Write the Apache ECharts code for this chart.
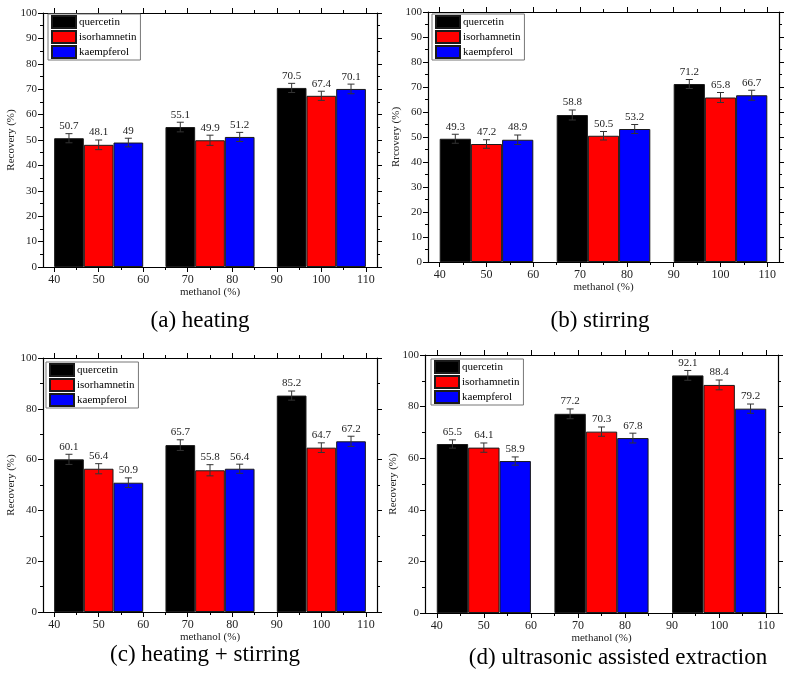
<!DOCTYPE html>
<html><head><meta charset="utf-8">
<script src="https://cdn.jsdelivr.net/npm/echarts@6/dist/echarts.min.js"></script>
<style>html,body{margin:0;padding:0;background:#fff}#c{width:793px;height:679px}</style>
</head><body><div id="c"></div>
<script>
// ---------- data ----------
const seriesNames = ['quercetin', 'isorhamnetin', 'kaempferol'];
const methanolGroups = [50, 75, 100];
const xTickValues = [40, 50, 60, 70, 80, 90, 100, 110];
const xMinorTicks = [45, 55, 65, 75, 85, 95, 105];
const panelTitles = ['(a) heating', '(b) stirring', '(c) heating + stirring', '(d) ultrasonic assisted extraction'];
const yAxisNames = ['Recovery (%)', 'Rrcovery (%)', 'Recovery (%)', 'Recovery (%)'];
const xAxisName = 'methanol (%)';

const heatingQuercetin = [50.7, 55.1, 70.5];
const heatingIsorhamnetin = [48.1, 49.9, 67.4];
const heatingKaempferol = [49, 51.2, 70.1];
const stirringQuercetin = [49.3, 58.8, 71.2];
const stirringIsorhamnetin = [47.2, 50.5, 65.8];
const stirringKaempferol = [48.9, 53.2, 66.7];
const heatStirQuercetin = [60.1, 65.7, 85.2];
const heatStirIsorhamnetin = [56.4, 55.8, 64.7];
const heatStirKaempferol = [50.9, 56.4, 67.2];
const ultrasonicQuercetin = [65.5, 77.2, 92.1];
const ultrasonicIsorhamnetin = [64.1, 70.3, 88.4];
const ultrasonicKaempferol = [58.9, 67.8, 79.2];

const heatingErr = [[1.8, 1.9, 1.8], [1.9, 2.0, 1.8], [1.7, 1.8, 1.9]];
const stirringErr = [[1.8, 2.0, 1.8], [1.7, 1.7, 2.0], [1.9, 1.8, 2.0]];
const heatStirErr = [[2.0, 2.1, 1.8], [2.0, 2.2, 1.9], [1.9, 1.8, 2.0]];
const ultrasonicErr = [[1.6, 1.9, 1.9], [1.8, 1.8, 1.9], [1.6, 1.9, 1.8]];

const panelValues = [
  [heatingQuercetin, heatingIsorhamnetin, heatingKaempferol],
  [stirringQuercetin, stirringIsorhamnetin, stirringKaempferol],
  [heatStirQuercetin, heatStirIsorhamnetin, heatStirKaempferol],
  [ultrasonicQuercetin, ultrasonicIsorhamnetin, ultrasonicKaempferol]
];
const panelErrors = [heatingErr, stirringErr, heatStirErr, ultrasonicErr];

// ---------- layout / style ----------
const colors = ['#000000', '#ff0000', '#0000ff'];
const grids = [
  {l: 43, t: 13, w: 334, h: 254},
  {l: 428, t: 12, w: 351, h: 250},
  {l: 43, t: 358, w: 334, h: 254},
  {l: 425, t: 355, w: 353, h: 258}
];
const yIntervals = [10, 10, 20, 20];
const legendPos = [{l: 48, t: 14}, {l: 432, t: 14}, {l: 46, t: 362}, {l: 431, t: 359}];
const titlePos = [{x: 200, y: 321}, {x: 600, y: 321}, {x: 205, y: 655}, {x: 618, y: 658}];
const yNameGaps = [25, 26, 24, 26];
const X_MIN = 37.5, X_MAX = 112.5, BAR_UNITS = 20 / 3;
const FONT = '"Liberation Serif", "Times New Roman", serif';
const AXC = '#000';

const option = {
  animation: false,
  backgroundColor: '#fff',
  grid: [], xAxis: [], yAxis: [], series: [], legend: [], graphic: []
};

grids.forEach((g, p) => {
  option.grid.push({left: g.l, top: g.t, width: g.w, height: g.h, containLabel: false});
  const common = {
    type: 'value', gridIndex: p, min: X_MIN, max: X_MAX,
    splitLine: {show: false}
  };
  option.xAxis.push(Object.assign({}, common, {
    position: 'bottom',
    axisLine: {show: true, onZero: false, lineStyle: {color: AXC, width: 1.2}},
    axisTick: {show: true, inside: false, length: 5, customValues: xTickValues, lineStyle: {color: AXC}},
    axisLabel: {show: true, customValues: xTickValues, margin: 7, fontSize: 12, fontFamily: FONT, color: '#222'},
    name: xAxisName, nameLocation: 'middle', nameGap: 19,
    nameTextStyle: {fontSize: 11, fontFamily: FONT, color: '#222'}
  }));
  option.xAxis.push(Object.assign({}, common, {
    position: 'bottom',
    axisLine: {show: false, onZero: false},
    axisTick: {show: true, inside: false, length: 3, customValues: xMinorTicks, lineStyle: {color: AXC}},
    axisLabel: {show: false}
  }));
  option.xAxis.push(Object.assign({}, common, {
    position: 'top',
    axisLine: {show: true, onZero: false, lineStyle: {color: AXC, width: 1.2}},
    axisTick: {show: true, inside: false, length: 5, customValues: xTickValues, lineStyle: {color: AXC}},
    axisLabel: {show: false}
  }));
  option.xAxis.push(Object.assign({}, common, {
    position: 'top',
    axisLine: {show: false, onZero: false},
    axisTick: {show: true, inside: false, length: 3, customValues: xMinorTicks, lineStyle: {color: AXC}},
    axisLabel: {show: false}
  }));
  const yCommon = {
    type: 'value', gridIndex: p, min: 0, max: 100, interval: yIntervals[p],
    splitLine: {show: false},
    minorTick: {show: true, splitNumber: 2, length: 3, lineStyle: {color: AXC}},
    axisTick: {show: true, inside: false, length: 5, lineStyle: {color: AXC}},
    axisLine: {show: true, onZero: false, lineStyle: {color: AXC, width: 1.2}}
  };
  option.yAxis.push(Object.assign({}, yCommon, {
    position: 'left',
    axisLabel: {show: true, margin: 6, fontSize: 11, fontFamily: FONT, color: '#222'},
    name: yAxisNames[p], nameLocation: 'middle', nameGap: yNameGaps[p],
    nameTextStyle: {fontSize: 11, fontFamily: FONT, color: '#222'}
  }));
  option.yAxis.push(Object.assign({}, yCommon, {
    position: 'right',
    axisLabel: {show: false}
  }));

  const barPx = g.w / (X_MAX - X_MIN) * BAR_UNITS;
  const vals = panelValues[p];
  const errs = panelErrors[p];
  seriesNames.forEach((name, k) => {
    option.series.push({
      type: 'bar', name: name, xAxisIndex: p * 4, yAxisIndex: p * 2,
      barWidth: barPx, barGap: '0%',
      itemStyle: {color: colors[k], borderColor: '#1a1a1a', borderWidth: 1},
      data: methanolGroups.map((x, i) => [x, vals[k][i]])
    });
  });
  const errData = [];
  seriesNames.forEach((name, k) => {
    methanolGroups.forEach((x, i) => errData.push([x, vals[k][i], errs[k][i], k]));
  });
  option.series.push({
    type: 'custom', xAxisIndex: p * 4, yAxisIndex: p * 2, z: 5, clip: false,
    encode: {x: 0, y: 1},
    data: errData,
    renderItem: function (params, api) {
      const x = api.value(0), v = api.value(1), e = api.value(2), k = api.value(3);
      const c = api.coord([x, v]);
      const cx = c[0] + (k - 1) * barPx;
      const yt = api.coord([x, v + e])[1];
      const yb = api.coord([x, v - e])[1];
      const cap = 3.5;
      const st = {stroke: '#333', lineWidth: 1};
      return {type: 'group', children: [
        {type: 'line', shape: {x1: cx, y1: yt, x2: cx, y2: yb}, style: st},
        {type: 'line', shape: {x1: cx - cap, y1: yt, x2: cx + cap, y2: yt}, style: st},
        {type: 'line', shape: {x1: cx - cap, y1: yb, x2: cx + cap, y2: yb}, style: st},
        {type: 'text', x: cx, y: yt - 2, style: {
          text: String(v), textAlign: 'center', textVerticalAlign: 'bottom',
          font: '11px ' + FONT, fill: '#222'}}
      ]};
    }
  });

  option.legend.push({
    left: legendPos[p].l, top: legendPos[p].t, orient: 'vertical',
    data: seriesNames, icon: 'rect', itemWidth: 24, itemHeight: 12, itemGap: 1,
    padding: [1, 4, 1, 3], borderColor: '#777', borderWidth: 1, backgroundColor: '#fff',
    textStyle: {fontSize: 11, fontFamily: FONT, color: '#000', padding: [0, 0, 0, -2]},
    selectedMode: false
  });

  option.graphic.push({
    type: 'text', x: titlePos[p].x, y: titlePos[p].y,
    style: {text: panelTitles[p], font: '23px ' + FONT, fill: '#000', textAlign: 'center', textVerticalAlign: 'middle'}
  });
});

const chart = echarts.init(document.getElementById('c'), null, {renderer: 'canvas'});
chart.setOption(option);
</script>
</body></html>
